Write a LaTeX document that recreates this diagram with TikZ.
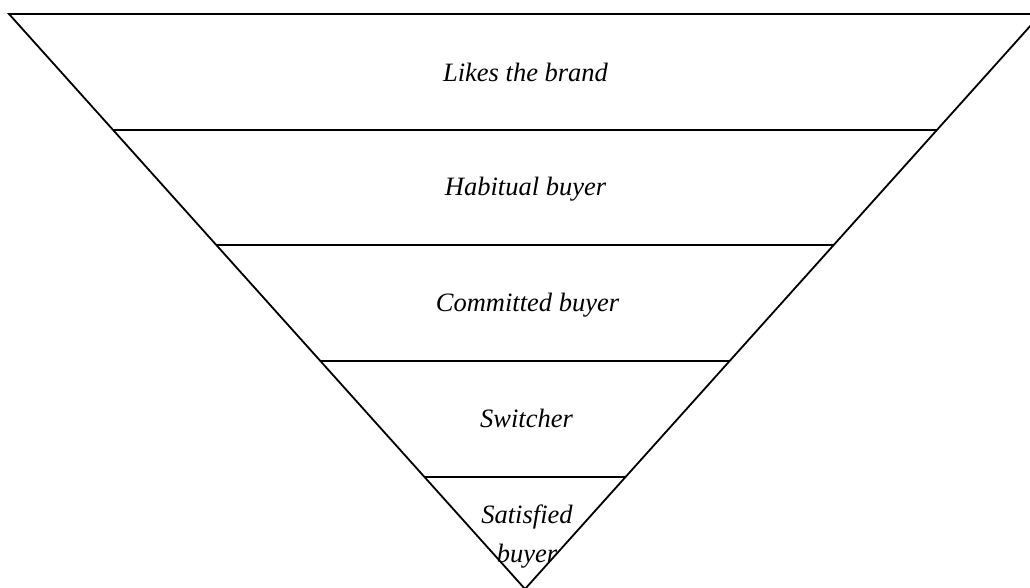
\documentclass[tikz,border=0pt]{standalone}
\usepackage{fontspec}
\setmainfont{Liberation Serif}
\begin{document}
\begin{tikzpicture}[x=1pt,y=-1pt,
  edge/.style={line width=1.8pt, line join=miter},
  lbl/.style={font=\fontsize{26.5}{39}\selectfont\itshape, align=center, inner sep=0pt}]
\useasboundingbox (0,0) rectangle (1030,588);
\clip (0,0) rectangle (1030,588);
\coordinate (TL) at (9,14);
\coordinate (TR) at (1041,14);
\coordinate (A) at (525,589);
\draw[edge] (TR) -- (TL) -- (A) -- cycle;
\coordinate (L1) at (113.1,130); \coordinate (R1) at (936.9,130);
\coordinate (L2) at (216.3,245); \coordinate (R2) at (833.7,245);
\coordinate (L3) at (320.4,361); \coordinate (R3) at (729.6,361);
\coordinate (L4) at (424.5,477); \coordinate (R4) at (625.5,477);
\draw[edge] (L1) -- (R1);
\draw[edge] (L2) -- (R2);
\draw[edge] (L3) -- (R3);
\draw[edge] (L4) -- (R4);
\node[lbl, anchor=base] (t1) at (525.5,82) {Likes the brand};
\node[lbl, anchor=base] (t2) at (525.5,196) {Habitual buyer};
\node[lbl, anchor=base] (t3) at (527.5,311) {Committed buyer};
\node[lbl, anchor=base] (t4) at (526.5,427) {Switcher};
\node[lbl, anchor=center] (t5) at (527,536.3) {Satisfied\\buyer};
\end{tikzpicture}
\end{document}
